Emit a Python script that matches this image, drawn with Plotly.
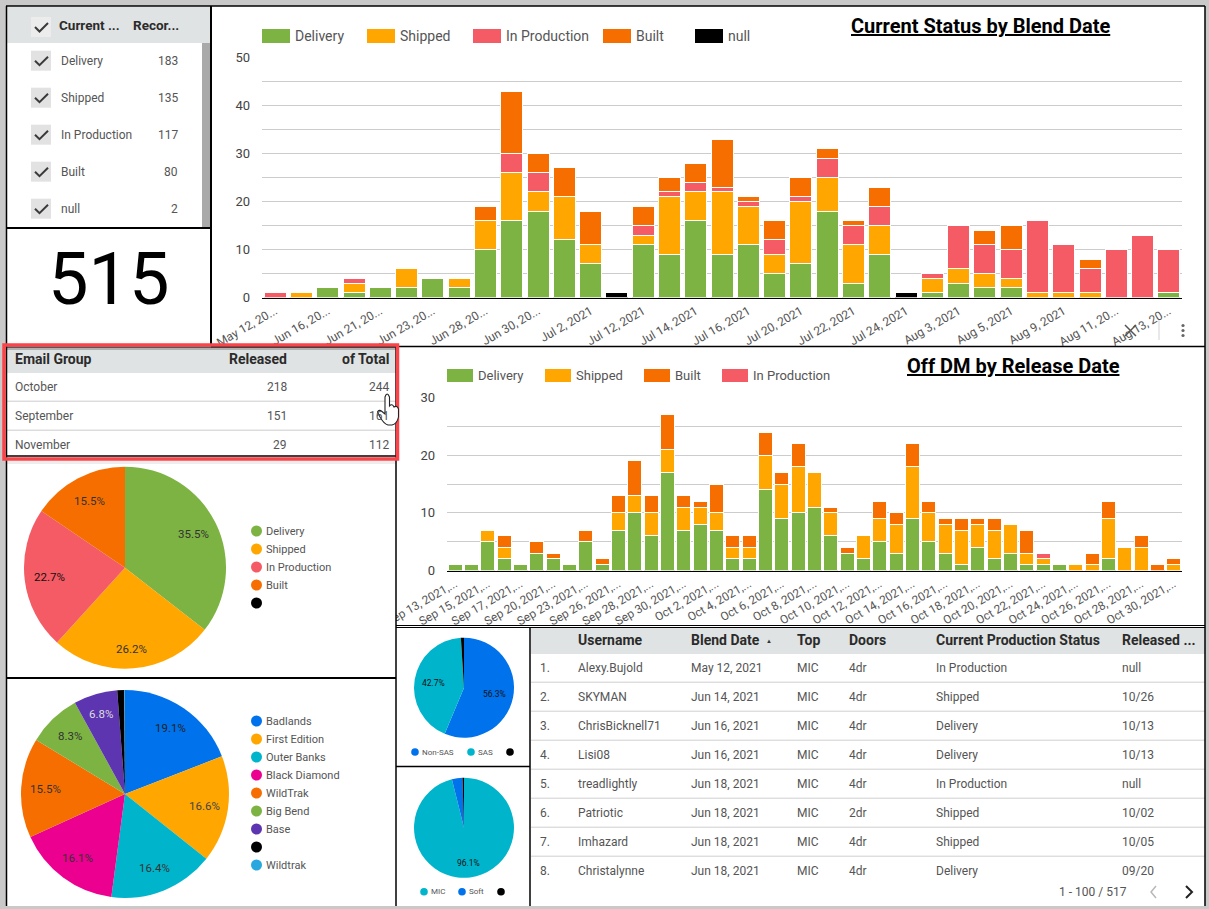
import math
import plotly.graph_objects as go

W, H = 1209, 909

# ---- chart data ----
blend_dates = ["May 12, 2021", "Jun 14, 2021", "Jun 16, 2021", "Jun 18, 2021", "Jun 21, 2021", "Jun 22, 2021", "Jun 23, 2021",
               "Jun 25, 2021", "Jun 28, 2021", "Jun 29, 2021", "Jun 30, 2021", "Jul 1, 2021", "Jul 2, 2021", "Jul 8, 2021",
               "Jul 12, 2021", "Jul 13, 2021", "Jul 14, 2021", "Jul 15, 2021", "Jul 16, 2021", "Jul 19, 2021", "Jul 20, 2021",
               "Jul 21, 2021", "Jul 22, 2021", "Jul 23, 2021", "Jul 24, 2021", "Jul 26, 2021", "Aug 3, 2021", "Aug 4, 2021",
               "Aug 5, 2021", "Aug 6, 2021", "Aug 9, 2021", "Aug 10, 2021", "Aug 11, 2021", "Aug 12, 2021", "Aug 13, 2021"]
blend_tick_text = ["May 12, 20...", "Jun 16, 20...", "Jun 21, 20...", "Jun 23, 20...", "Jun 28, 20...", "Jun 30, 20...",
                   "Jul 2, 2021", "Jul 12, 2021", "Jul 14, 2021", "Jul 16, 2021", "Jul 20, 2021", "Jul 22, 2021", "Jul 24, 2021",
                   "Aug 3, 2021", "Aug 5, 2021", "Aug 9, 2021", "Aug 11, 20...", "Aug 13, 20..."]
blend_delivery = [0, 0, 2, 1, 2, 2, 4, 2, 10, 16, 18, 12, 7, 0, 11, 9, 16, 9, 11, 5, 7, 18, 3, 9, 0, 1, 3, 2, 2, 0, 0, 0, 0, 0, 1]
blend_shipped = [0, 1, 0, 2, 0, 4, 0, 2, 6, 10, 4, 9, 4, 0, 2, 12, 6, 13, 8, 4, 13, 7, 8, 6, 0, 3, 3, 3, 2, 1, 1, 1, 0, 0, 0]
blend_production = [1, 0, 0, 1, 0, 0, 0, 0, 0, 4, 4, 0, 0, 0, 2, 1, 2, 1, 1, 3, 1, 4, 4, 4, 0, 1, 9, 6, 6, 15, 10, 5, 10, 13, 9]
blend_built = [0, 0, 0, 0, 0, 0, 0, 0, 3, 13, 4, 6, 7, 0, 4, 3, 4, 10, 1, 4, 4, 2, 1, 4, 0, 0, 0, 3, 5, 0, 0, 2, 0, 0, 0]
blend_null = [0, 0, 0, 0, 0, 0, 0, 0, 0, 0, 0, 0, 0, 1, 0, 0, 0, 0, 0, 0, 0, 0, 0, 0, 1, 0, 0, 0, 0, 0, 0, 0, 0, 0, 0]

release_dates = ["Sep 13, 2021", "Sep 14, 2021", "Sep 15, 2021", "Sep 16, 2021", "Sep 17, 2021", "Sep 18, 2021", "Sep 20, 2021",
                 "Sep 21, 2021", "Sep 23, 2021", "Sep 24, 2021", "Sep 26, 2021", "Sep 27, 2021", "Sep 28, 2021", "Sep 29, 2021",
                 "Sep 30, 2021", "Oct 1, 2021", "Oct 2, 2021", "Oct 3, 2021", "Oct 4, 2021", "Oct 5, 2021", "Oct 6, 2021",
                 "Oct 7, 2021", "Oct 8, 2021", "Oct 9, 2021", "Oct 10, 2021", "Oct 11, 2021", "Oct 12, 2021", "Oct 13, 2021",
                 "Oct 14, 2021", "Oct 15, 2021", "Oct 16, 2021", "Oct 17, 2021", "Oct 18, 2021", "Oct 19, 2021", "Oct 20, 2021",
                 "Oct 21, 2021", "Oct 22, 2021", "Oct 23, 2021", "Oct 24, 2021", "Oct 25, 2021", "Oct 26, 2021", "Oct 27, 2021",
                 "Oct 28, 2021", "Oct 29, 2021", "Oct 30, 2021"]
release_delivery = [1, 1, 5, 2, 1, 3, 2, 1, 5, 1, 7, 10, 6, 17, 7, 8, 7, 2, 2, 14, 9, 10, 11, 6, 3, 2, 5, 3, 9, 5, 3, 1, 4, 2, 3, 1, 1, 1, 0, 0, 2, 0, 0, 0, 0]
release_shipped = [0, 0, 2, 2, 0, 0, 0, 0, 0, 0, 3, 3, 4, 4, 4, 3, 3, 2, 2, 6, 6, 8, 6, 4, 0, 4, 4, 5, 9, 5, 5, 6, 4, 5, 5, 2, 1, 0, 1, 1, 7, 4, 4, 0, 1]
release_built = [0, 0, 0, 2, 0, 2, 1, 0, 2, 1, 3, 6, 3, 6, 2, 1, 5, 2, 2, 4, 2, 4, 0, 1, 1, 0, 3, 2, 4, 2, 1, 2, 1, 2, 0, 4, 0, 0, 0, 2, 3, 0, 2, 1, 1]
release_production = [0, 0, 0, 0, 0, 0, 0, 0, 0, 0, 0, 0, 0, 0, 0, 0, 0, 0, 0, 0, 0, 0, 0, 0, 0, 0, 0, 0, 0, 0, 0, 0, 0, 0, 0, 0, 1, 0, 0, 0, 0, 0, 0, 0, 0]

# status filter control and scorecard
status_names = ["Delivery", "Shipped", "In Production", "Built", "null"]
status_counts = [183, 135, 117, 80, 2]
scorecard_value = "515"

# email group table
email_groups = ["October", "September", "November"]
email_released = [218, 151, 29]
email_total = [244, 161, 112]

# pies
status_pie_names = ["Delivery", "Shipped", "In Production", "Built", ""]
status_pie_values = [183, 135, 117, 80, 0]
trim_names = ["Badlands", "First Edition", "Outer Banks", "Black Diamond", "WildTrak", "Big Bend", "Base", "", "Wildtrak"]
trim_values = [19.1, 16.6, 16.4, 16.1, 15.5, 8.3, 6.8, 1.1, 0.1]
sas_names = ["Non-SAS", "SAS", ""]
sas_values = [56.3, 42.7, 1.0]
top_names = ["MIC", "Soft", ""]
top_values = [96.1, 3.4, 0.5]

# order detail table
table_headers = ["Username", "Blend Date", "Top", "Doors", "Current Production Status", "Released ..."]
table_user = ["Alexy.Bujold", "SKYMAN", "ChrisBicknell71", "Lisi08", "treadlightly", "Patriotic", "Imhazard", "Christalynne"]
table_blend = ["May 12, 2021", "Jun 14, 2021", "Jun 16, 2021", "Jun 16, 2021", "Jun 18, 2021", "Jun 18, 2021", "Jun 18, 2021", "Jun 18, 2021"]
table_top = ["MIC"] * 8
table_doors = ["4dr", "4dr", "4dr", "4dr", "4dr", "2dr", "4dr", "4dr"]
table_status = ["In Production", "Shipped", "Delivery", "Delivery", "In Production", "Shipped", "Shipped", "Delivery"]
table_released = ["null", "10/26", "10/13", "10/13", "null", "10/02", "10/05", "09/20"]

# ---- palette ----
GREEN, AMBER, CORAL, ORANGE = "#7cb342", "#ffa600", "#f45b64", "#f76e00"
BLUE, TEAL, PINK, PURPLE, SKY = "#0072ec", "#00b5cb", "#ec0090", "#5e35b1", "#29a8e0"
HEADER_BG = "#e0e3e3"
TXT, TXT_DARK = "#555555", "#2b2b2b"
FONT = "Roboto"


def fx(px):
    return px / W


def fy(py):
    return 1 - py / H


shapes, notes = [], []


def rect(x0, y0, x1, y1, fill, layer="below", line=None, lw=0):
    shapes.append(dict(type="rect", xref="paper", yref="paper", x0=fx(x0), x1=fx(x1), y0=fy(y0), y1=fy(y1),
                       fillcolor=fill, layer=layer, line=dict(color=line or fill, width=lw)))


def seg(x0, y0, x1, y1, color="#000000", lw=1.5, layer="above"):
    shapes.append(dict(type="line", xref="paper", yref="paper", x0=fx(x0), x1=fx(x1), y0=fy(y0), y1=fy(y1),
                       layer=layer, line=dict(color=color, width=lw)))


def dot(cx, cy, r, color):
    shapes.append(dict(type="circle", xref="paper", yref="paper", x0=fx(cx - r), x1=fx(cx + r), y0=fy(cy - r), y1=fy(cy + r),
                       fillcolor=color, layer="above", line=dict(width=0)))


def path(cmds, fill, line, lw=1, layer="above"):
    parts = []
    for c in cmds:
        nums = c[1:]
        coords = [f"{fx(nums[i]):.5f},{fy(nums[i + 1]):.5f}" for i in range(0, len(nums), 2)]
        parts.append(c[0] + " ".join(coords))
    shapes.append(dict(type="path", xref="paper", yref="paper", path=" ".join(parts) + " Z" if fill != "rgba(0,0,0,0)" else " ".join(parts),
                       fillcolor=fill, layer=layer, line=dict(color=line, width=lw)))


def text(x, y, s, size=12, color=TXT, anchor="left", weight="normal", **font_extra):
    notes.append(dict(xref="paper", yref="paper", x=fx(x), y=fy(y), text=s, showarrow=False, xanchor=anchor, yanchor="middle",
                      align=anchor, borderpad=0, borderwidth=0,
                      font=dict(family=FONT, size=size, color=color, weight=weight, **font_extra)))


def pie_domain(cx, cy, r):
    return dict(x=[fx(cx - r), fx(cx + r)], y=[fy(cy + r), fy(cy - r)])


def pie_labels(values, cx, cy, r, fracs, size, colors, min_share=0.05):
    # percent labels sit on each slice's mid-angle, at a per-slice share of the radius
    total = sum(values)
    run = 0
    for v, frac, c in zip(values, fracs, colors):
        mid = (run + v / 2) / total * 2 * math.pi
        run += v
        if v / total >= min_share:
            text(cx + r * frac * math.sin(mid), cy - r * frac * math.cos(mid), f"{v / total * 100:.1f}%", size=size, color=c, anchor="center")


# ---- panels ----
rect(6, 6, 1205, 906, "#ffffff")

traces = []


def stacked(x, series, xa, ya, width_share):
    for name, vals, color in series:
        traces.append(go.Bar(x=x, y=vals, name=name, xaxis=xa, yaxis=ya, showlegend=False, hoverinfo="skip", width=width_share,
                             marker=dict(color=color, line=dict(color="#ffffff", width=1))))


stacked(blend_dates, [("Delivery", blend_delivery, GREEN), ("Shipped", blend_shipped, AMBER),
                      ("In Production", blend_production, CORAL), ("Built", blend_built, ORANGE),
                      ("null", blend_null, "#000000")], "x", "y", 0.837)
stacked(release_dates, [("Delivery", release_delivery, GREEN), ("Shipped", release_shipped, AMBER),
                        ("Built", release_built, ORANGE), ("In Production", release_production, CORAL)], "x2", "y2", 0.857)

# pies
PIE1 = (125, 567.7, 101)
PIE2 = (125, 794, 104)
PIE3 = (464, 687.7, 50)
PIE4 = (464, 827.8, 50)
for names, vals, cols, geo in [
    (status_pie_names, status_pie_values, [GREEN, AMBER, CORAL, ORANGE, "#000000"], PIE1),
    (trim_names, trim_values, [BLUE, AMBER, TEAL, PINK, ORANGE, GREEN, PURPLE, "#000000", SKY], PIE2),
    (sas_names, sas_values, [BLUE, TEAL, "#000000"], PIE3),
    (top_names, top_values, [TEAL, BLUE, "#000000"], PIE4),
]:
    traces.append(go.Pie(labels=[n or " " for n in names], values=vals, sort=False, direction="clockwise", rotation=0,
                         textinfo="none", hoverinfo="skip", showlegend=False, domain=pie_domain(*geo),
                         marker=dict(colors=cols, line=dict(width=0))))

pie_labels(status_pie_values, *PIE1, [0.75, 0.81, 0.75, 0.75, 0.75], 11.5, ["#333333", "#333333", "#111111", "#333333", "#000000"])
pie_labels(trim_values, *PIE2, [0.77, 0.77, 0.77, 0.77, 0.77, 0.77, 0.8, 0.77, 0.77], 11.5,
           ["#222222", "#444444", "#333333", "#333333", "#333333", "#333333", "#dddddd", "#000", "#000"])
pie_labels(sas_values, *PIE3, [0.62] * 3, 8.5, ["#111111", "#111111", "#000"])
pie_labels(top_values, *PIE4, [0.7] * 3, 8.5, ["#111111", "#111111", "#000"])

# pie legends
for i, (n, c) in enumerate(zip(status_pie_names, [GREEN, AMBER, CORAL, ORANGE, "#000000"])):
    dot(256.5, 531 + 18 * i, 5.5, c)
    text(266, 531 + 18 * i, n, size=11)
for i, (n, c) in enumerate(zip(trim_names, [BLUE, AMBER, TEAL, PINK, ORANGE, GREEN, PURPLE, "#000000", SKY])):
    dot(256.5, 721 + 18 * i, 5.5, c)
    text(266, 721 + 18 * i, n, size=11)
for cx, n, c, y in [(415, sas_names[0], BLUE, 752), (471, sas_names[1], TEAL, 752), (510, sas_names[2], "#000000", 752),
                    (424, top_names[0], TEAL, 891.7), (462, top_names[1], BLUE, 891.7), (501, top_names[2], "#000000", 891.7)]:
    dot(cx, y, 3.8, c)
    text(cx + 7, y, n, size=8)

# bar chart legends and titles
for x0, n, c in [(262, "Delivery", GREEN), (367, "Shipped", AMBER), (473, "In Production", CORAL), (603, "Built", ORANGE), (695, "null", "#000000")]:
    rect(x0, 29, x0 + 28, 43, c)
    text(x0 + 33, 36, n, size=14)
for x0, n, c in [(447, "Delivery", GREEN), (545, "Shipped", AMBER), (644, "Built", ORANGE), (722, "In Production", CORAL)]:
    rect(x0, 369, x0 + 26, 382, c)
    text(x0 + 31, 375.5, n, size=13)
text(851, 26, "Current Status by Blend Date", size=20, color="#000000", weight="bold", lineposition="under")
text(907, 366, "Off DM by Release Date", size=20, color="#000000", weight="bold", lineposition="under")

# status filter control
rect(7, 7, 211, 43, HEADER_BG)


def checkbox(cy, bg):
    rect(31, cy - 10, 51, cy + 10, bg)
    path([("M", 35, cy), ("L", 39.5, cy + 4.5), ("L", 48, cy - 4)], "rgba(0,0,0,0)", "#3a3a3a", 2)


checkbox(27, "#ececec")
text(59, 25.5, "Current ...", size=13.5, color=TXT_DARK, weight="bold")
text(133, 25.5, "Recor...", size=13.5, color=TXT_DARK, weight="bold")
for i, (n, c) in enumerate(zip(status_names, status_counts)):
    cy = 60.7 + 37 * i
    checkbox(cy, "#e2e2e2")
    text(61, cy, n, size=12)
    text(178, cy, str(c), size=12, anchor="right")
rect(202, 43, 210, 227, "#a9a9a9")

# scorecard
text(108, 279, scorecard_value, size=72, color="#000000", anchor="center")

# email group table
rect(7, 347, 396, 373, HEADER_BG)
rect(7, 347, 396, 350, "rgba(0,0,0,0.22)")
rect(6, 461, 396, 464, "rgba(0,0,0,0.07)")
text(15, 359, "Email Group", size=14, color=TXT_DARK, weight="bold")
text(287, 359, "Released", size=14, color=TXT_DARK, weight="bold", anchor="right")
text(389, 359, "of Total", size=14, color=TXT_DARK, weight="bold", anchor="right")
for i, (g, r_, t_) in enumerate(zip(email_groups, email_released, email_total)):
    cy = 386.7 + 29 * i
    text(15, cy, g, size=12, color=TXT)
    text(287, cy, str(r_), size=12, color=TXT, anchor="right")
    text(389, cy, str(t_), size=12, color=TXT, anchor="right")
    if i:
        seg(7, cy - 14.5, 396, cy - 14.5, "#cccccc", 1)

# order detail table
rect(531, 628, 1205, 654, HEADER_BG)
col_x = [578, 690.5, 797, 848.5, 935.5, 1122]
for x0, h in zip(col_x, table_headers):
    text(x0, 640, h, size=14, color=TXT_DARK, weight="bold")
text(766, 640.5, "▲", size=6, color="#333333")
for i, row in enumerate(zip(table_user, table_blend, table_top, table_doors, table_status, table_released)):
    cy = 667.7 + 29 * i
    text(539.5, cy, f"{i + 1}.", size=12)
    for x0, v in zip(col_x, row):
        text(x0, cy, v, size=12)
    if i < 7:
        seg(531, cy + 14.5, 1205, cy + 14.5, "#cfcfcf", 1)
text(1059, 891.7, "1 - 100 / 517", size=12, color=TXT)
path([("M", 1156, 886), ("L", 1151, 892), ("L", 1156, 898)], "rgba(0,0,0,0)", "#b8b8b8", 1.5)
path([("M", 1186, 886), ("L", 1192, 892), ("L", 1186, 898)], "rgba(0,0,0,0)", "#222222", 2)

# tick labels stop at the panel edge
rect(375, 572, 396, 625, "#ffffff", layer="above")

# panel rules
seg(6.5, 6, 6.5, 906, lw=1.5)
seg(6, 6, 1205, 6, lw=1.5)
seg(1205, 6, 1205, 906, lw=1.5)
seg(211, 6, 211, 346, lw=2)
seg(7, 228, 211, 228, lw=2)
seg(211, 346.5, 1205, 346.5, lw=1.5)
seg(396, 347, 396, 906, lw=1.5)
seg(396, 625.5, 1205, 625.5, lw=1)
seg(396, 627.5, 1205, 627.5, lw=1)
seg(7, 678, 396, 678, lw=2)
seg(396, 766.5, 530, 766.5, lw=1.5)
seg(530, 628, 530, 906, lw=1.5)
seg(7, 347, 396, 347, lw=1)
seg(7, 456, 396, 456, lw=1.5)

# highlight around the email table
shapes.append(dict(type="rect", xref="paper", yref="paper", x0=fx(4), x1=fx(397.5), y0=fy(345), y1=fy(459), layer="above",
                   line=dict(color="#f94449", width=3.5), fillcolor="rgba(0,0,0,0)"))

# chart toolbar
seg(1125, 325, 1136, 336, "#555555", 1.5)
seg(1136, 325, 1125, 336, "#555555", 1.5)
seg(1159, 320, 1159, 340, "#e0e0e0", 1.5)
for cy in (325.5, 330.5, 335.5):
    dot(1183, cy, 1.6, "#666666")

# pointer
path([("M", 385, 397), ("Q", 387, 391, 389.5, 397), ("L", 389.5, 406), ("Q", 392, 403, 394, 407), ("Q", 397, 405, 398.5, 409),
      ("L", 398.5, 417), ("Q", 397, 424, 392, 425), ("L", 388, 425), ("Q", 384, 424, 380, 417), ("L", 377.5, 412),
      ("Q", 379, 409, 382, 411.5), ("L", 385, 414)], "#ffffff", "#222222", 1.1)

# ---- axes ----


def x_axis(domain, anchor, ticks, labels, size):
    return dict(domain=domain, anchor=anchor, type="category", tickmode="array", tickvals=ticks, ticktext=labels, tickangle=-30,
                ticks="", showgrid=False, zeroline=False, showline=True, linecolor="#000000", linewidth=1.2,
                tickfont=dict(family=FONT, size=size, color=TXT), ticklabelstandoff=1, fixedrange=True)


def y_axis(domain, anchor, top, size):
    return dict(domain=domain, anchor=anchor, range=[0, top], tickmode="linear", tick0=0, dtick=10, ticks="", showline=False,
                showgrid=True, gridcolor="#cccccc", gridwidth=1, zeroline=False,
                minor=dict(dtick=5, tick0=0, showgrid=True, gridcolor="#cccccc", gridwidth=1, ticks=""),
                tickfont=dict(family=FONT, size=size, color="#444444"), ticklabelstandoff=11, fixedrange=True)


release_tick_text = [d + ",..." for d in release_dates[::2]]

fig = go.Figure(traces)
fig.update_layout(
    width=W, height=H, margin=dict(l=0, r=0, t=0, b=0, pad=0, autoexpand=False),
    paper_bgcolor="#c9c9c9", plot_bgcolor="rgba(0,0,0,0)", barmode="stack", showlegend=False,
    font=dict(family=FONT), shapes=shapes, annotations=notes,
    xaxis=x_axis([fx(262), fx(1182)], "y", blend_dates[::2], blend_tick_text, 12),
    yaxis=y_axis([fy(297.5), fy(57.5)], "x", 50, 13),
    xaxis2=x_axis([fx(447), fx(1182)], "y2", release_dates[::2], release_tick_text, 11.8),
    yaxis2=y_axis([fy(570.5), fy(397.5)], "x2", 30, 13),
)
fig.write_html("out.html")
